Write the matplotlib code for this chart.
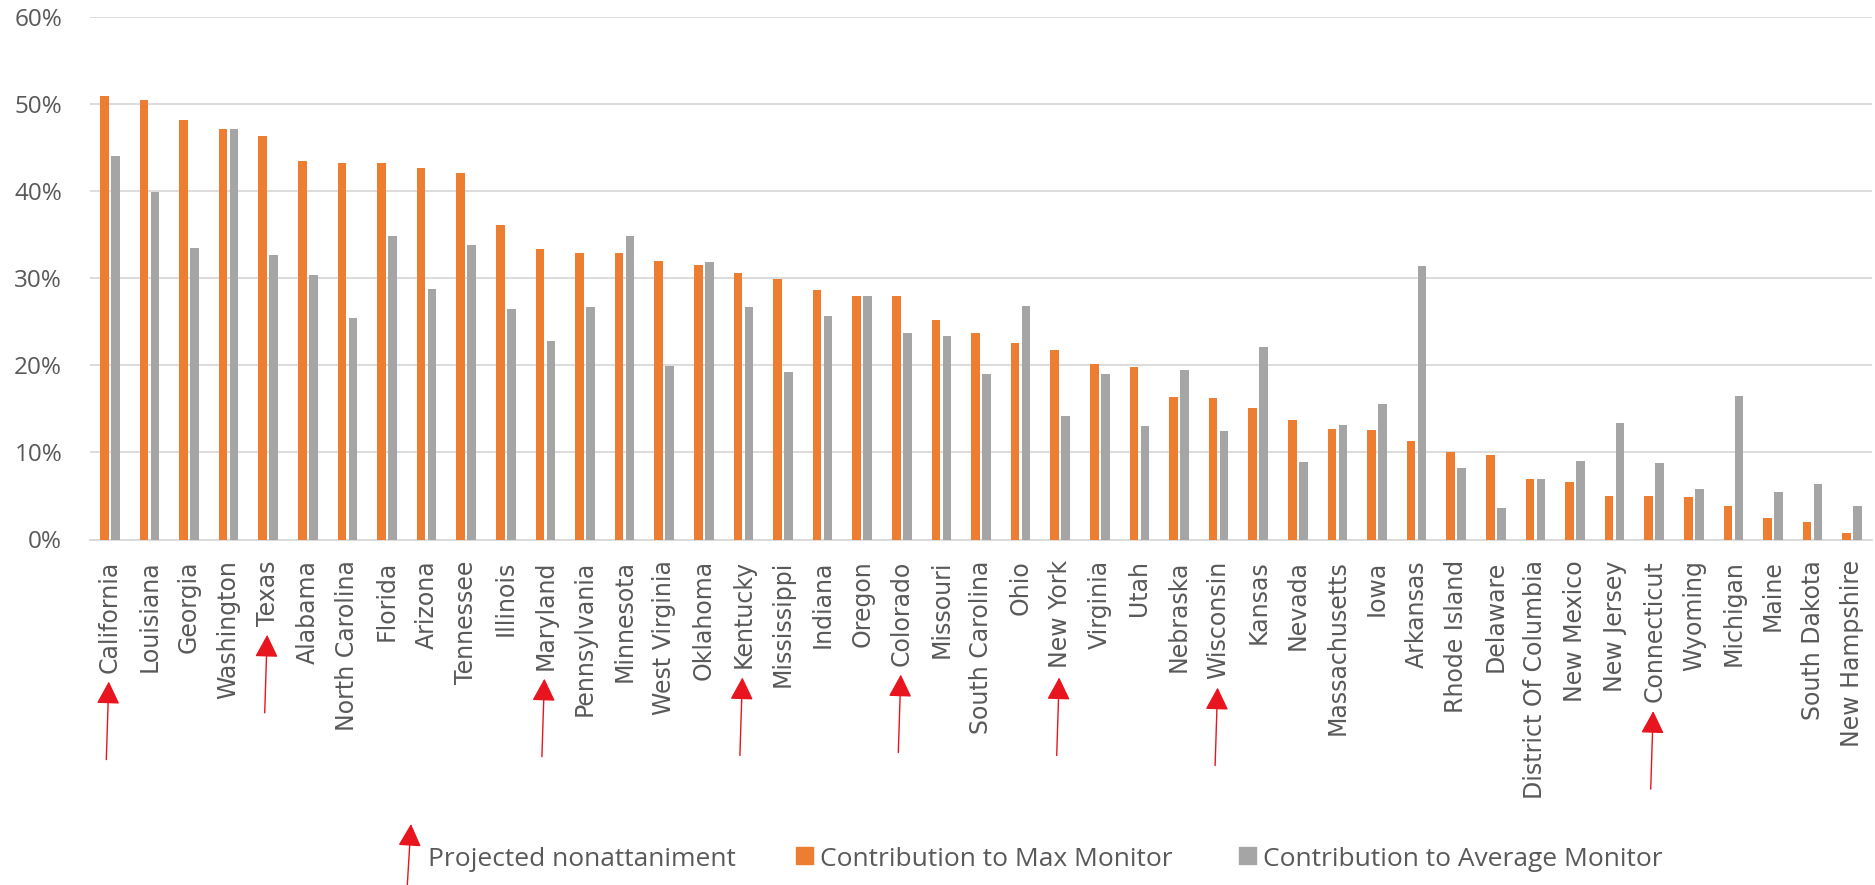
import matplotlib
matplotlib.use("Agg")
import matplotlib.pyplot as plt
from matplotlib.patches import Rectangle
import numpy as np

# values (percent)
states = ['California', 'Louisiana', 'Georgia', 'Washington', 'Texas', 'Alabama',
          'North Carolina', 'Florida', 'Arizona', 'Tennessee', 'Illinois', 'Maryland',
          'Pennsylvania', 'Minnesota', 'West Virginia', 'Oklahoma', 'Kentucky',
          'Mississippi', 'Indiana', 'Oregon', 'Colorado', 'Missouri', 'South Carolina',
          'Ohio', 'New York', 'Virginia', 'Utah', 'Nebraska', 'Wisconsin', 'Kansas',
          'Nevada', 'Massachusetts', 'Iowa', 'Arkansas', 'Rhode Island', 'Delaware',
          'District Of Columbia', 'New Mexico', 'New Jersey', 'Connecticut', 'Wyoming',
          'Michigan', 'Maine', 'South Dakota', 'New Hampshire']
max_monitor = [50.9, 50.5, 48.1, 47.1, 46.3, 43.4, 43.2, 43.2, 42.6, 42.1, 36.1, 33.4,
               32.9, 32.9, 32.0, 31.5, 30.6, 29.9, 28.6, 28.0, 27.9, 25.2, 23.7, 22.5,
               21.8, 20.1, 19.8, 16.4, 16.2, 15.1, 13.7, 12.7, 12.6, 11.3, 10.0, 9.7,
               6.9, 6.6, 5.0, 5.0, 4.9, 3.8, 2.5, 2.0, 0.7]
avg_monitor = [44.0, 39.9, 33.5, 47.1, 32.7, 30.4, 25.4, 34.8, 28.8, 33.8, 26.5, 22.8,
               26.7, 34.8, 19.9, 31.9, 26.7, 19.2, 25.7, 28.0, 23.7, 23.4, 19.0, 26.8,
               14.2, 19.0, 13.0, 19.4, 12.4, 22.1, 8.9, 13.2, 15.6, 31.4, 8.2, 3.6,
               6.9, 9.0, 13.4, 8.8, 5.8, 16.5, 5.5, 6.4, 3.8]
nonattainment = ['California', 'Texas', 'Maryland', 'Kentucky', 'Colorado',
                 'New York', 'Wisconsin', 'Connecticut']
y_ticks = [0, 10, 20, 30, 40, 50, 60]

ORANGE = '#ED7D31'
GRAY = '#A5A5A5'
TEXT = '#595959'
RED = '#E8141E'
GRID = '#D9D9D9'
CAL = ['Open Sans', 'DejaVu Sans']

W, H = 1875, 885
fig = plt.figure(figsize=(W / 100, H / 100), dpi=100)
ax = fig.add_axes([90 / W, 1 - 539.5 / H, (1872 - 90) / W, (539.5 - 16.8) / H])

x = np.arange(len(states))
ax.bar(x - 0.139, max_monitor, width=0.215, color=ORANGE, zorder=3)
ax.bar(x + 0.139, avg_monitor, width=0.215, color=GRAY, zorder=3)

ax.set_xlim(-0.5, len(states) - 0.5)
ax.set_ylim(0, 60)
ax.set_yticks(y_ticks)
ax.set_yticklabels([f'{v}%' for v in y_ticks], family=CAL, fontsize=17.5, color=TEXT)
ax.set_xticks(x)
ax.set_xticklabels(states, rotation=90, fontsize=17, color=TEXT, family='DejaVu Sans')
ax.yaxis.grid(True, color=GRID, lw=1.3)
ax.set_axisbelow(True)
for s in ['top', 'right', 'left']:
    ax.spines[s].set_visible(False)
ax.spines['bottom'].set_color(GRID)
ax.spines['bottom'].set_linewidth(1.3)
ax.tick_params(axis='y', length=0, pad=20)
ax.tick_params(axis='x', length=0, pad=15)

arrow_kw = dict(arrowstyle='-|>,head_length=0.7,head_width=0.36', color=RED,
                lw=1.0, mutation_scale=20, shrinkA=0, shrinkB=0)

# red arrows under the projected nonattainment states
fig.canvas.draw()
renderer = fig.canvas.get_renderer()
for lbl in ax.get_xticklabels():
    if lbl.get_text() in nonattainment:
        bb = lbl.get_window_extent(renderer)
        cx = (bb.x0 + bb.x1) / 2 - 1
        tip = bb.y0 - 9
        ax.annotate('', xy=(cx, tip), xycoords='figure pixels',
                    xytext=(cx - 2.5, tip - 78), textcoords='figure pixels',
                    arrowprops=arrow_kw, annotation_clip=False)

# legend at the bottom
ax.annotate('', xy=(411, H - 824), xycoords='figure pixels',
            xytext=(407, -5), textcoords='figure pixels',
            arrowprops=arrow_kw, annotation_clip=False)
fig.text(428 / W, 19 / H, 'Projected nonattaniment', family=CAL, fontsize=19,
         color=TEXT, va='baseline', ha='left')
for x0, col, txt in [(796, ORANGE, 'Contribution to Max Monitor'),
                     (1239, GRAY, 'Contribution to Average Monitor')]:
    fig.patches.append(Rectangle((x0 / W, (H - 864) / H), 17 / W, 17 / H,
                                 transform=fig.transFigure, color=col))
    fig.text((x0 + 24) / W, 19 / H, txt, family=CAL, fontsize=19,
             color=TEXT, va='baseline', ha='left')

fig.savefig('out.png', dpi=100)
